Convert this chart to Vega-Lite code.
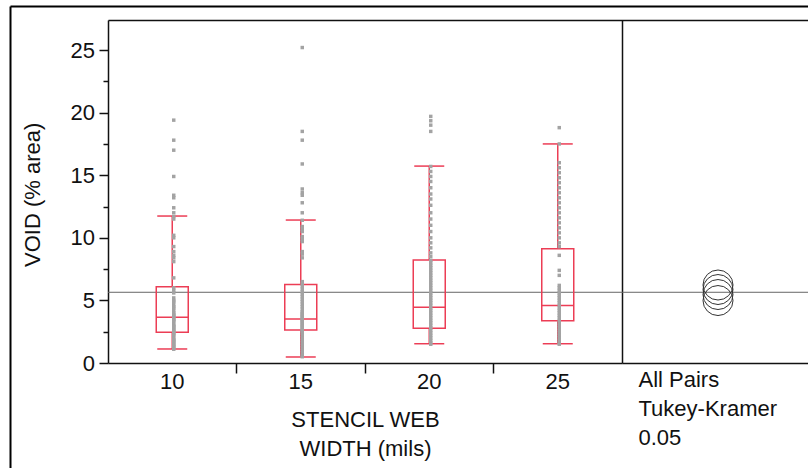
{
  "$schema": "https://vega.github.io/schema/vega-lite/v6.json",
  "width": 799,
  "height": 463,
  "autosize": {"type": "none"},
  "padding": {"left": 9, "top": 5, "right": 0, "bottom": 0},
  "background": "white",
  "config": {
    "view": {"stroke": null},
    "font": "Liberation Sans",
    "axis": {
      "labelFont": "Liberation Sans", "titleFont": "Liberation Sans",
      "labelFontSize": 22, "titleFontSize": 22,
      "labelColor": "#111", "titleColor": "#111", "titleFontWeight": "normal",
      "domainColor": "#111", "tickColor": "#111", "grid": false,
      "domainWidth": 1.5, "tickWidth": 1.5
    }
  },
  "datasets": {
    "stats": [
      {"g": "10", "lo": 1.12, "q1": 2.45, "med": 3.65, "q3": 6.09, "hi": 11.74},
      {"g": "15", "lo": 0.48, "q1": 2.64, "med": 3.51, "q3": 6.28, "hi": 11.42},
      {"g": "20", "lo": 1.54, "q1": 2.77, "med": 4.45, "q3": 8.23, "hi": 15.73},
      {"g": "25", "lo": 1.54, "q1": 3.38, "med": 4.6, "q3": 9.13, "hi": 17.5}
    ],
    "means": [
      {"g": "10", "panel": "All Pairs", "mean": 4.99},
      {"g": "15", "panel": "All Pairs", "mean": 5.47},
      {"g": "20", "panel": "All Pairs", "mean": 5.87},
      {"g": "25", "panel": "All Pairs", "mean": 6.23}
    ],
    "grand": [{"grand_mean": 5.65}],
    "points": [
      {"g":"10","v":19.4},{"g":"10","v":17.8},{"g":"10","v":17.0},{"g":"10","v":14.9},{"g":"10","v":13.4},{"g":"10","v":13.2},{"g":"10","v":12.4},{"g":"10","v":12.0},{"g":"10","v":11.7},{"g":"10","v":11.5},{"g":"10","v":10.2},{"g":"10","v":10.0},{"g":"10","v":9.3},{"g":"10","v":8.9},{"g":"10","v":8.6},{"g":"10","v":8.4},{"g":"10","v":8.1},{"g":"10","v":6.8},{"g":"10","v":6.0},{"g":"10","v":5.8},{"g":"10","v":5.6},{"g":"10","v":5.2},{"g":"10","v":5.0},{"g":"10","v":4.9},{"g":"10","v":4.7},{"g":"10","v":4.5},{"g":"10","v":4.4},{"g":"10","v":4.2},{"g":"10","v":4.0},{"g":"10","v":3.9},{"g":"10","v":3.8},{"g":"10","v":3.7},{"g":"10","v":3.6},{"g":"10","v":3.5},{"g":"10","v":3.4},{"g":"10","v":3.3},{"g":"10","v":3.1},{"g":"10","v":3.0},{"g":"10","v":2.9},{"g":"10","v":2.8},{"g":"10","v":2.7},{"g":"10","v":2.6},{"g":"10","v":2.5},{"g":"10","v":2.4},{"g":"10","v":2.3},{"g":"10","v":2.2},{"g":"10","v":2.0},{"g":"10","v":1.9},{"g":"10","v":1.8},{"g":"10","v":1.7},{"g":"10","v":1.6},{"g":"10","v":1.5},{"g":"10","v":1.4},{"g":"10","v":1.3},{"g":"10","v":1.2},{"g":"10","v":1.1},
      {"g":"15","v":25.2},{"g":"15","v":18.5},{"g":"15","v":17.8},{"g":"15","v":15.9},{"g":"15","v":13.9},{"g":"15","v":13.6},{"g":"15","v":13.4},{"g":"15","v":12.8},{"g":"15","v":12.0},{"g":"15","v":11.4},{"g":"15","v":10.9},{"g":"15","v":10.7},{"g":"15","v":10.5},{"g":"15","v":10.1},{"g":"15","v":9.9},{"g":"15","v":9.7},{"g":"15","v":8.9},{"g":"15","v":8.7},{"g":"15","v":8.4},{"g":"15","v":6.5},{"g":"15","v":6.3},{"g":"15","v":6.1},{"g":"15","v":5.9},{"g":"15","v":5.7},{"g":"15","v":5.5},{"g":"15","v":5.3},{"g":"15","v":5.1},{"g":"15","v":4.9},{"g":"15","v":4.7},{"g":"15","v":4.5},{"g":"15","v":4.3},{"g":"15","v":4.1},{"g":"15","v":4.0},{"g":"15","v":3.9},{"g":"15","v":3.8},{"g":"15","v":3.7},{"g":"15","v":3.6},{"g":"15","v":3.5},{"g":"15","v":3.4},{"g":"15","v":3.3},{"g":"15","v":3.2},{"g":"15","v":3.1},{"g":"15","v":3.0},{"g":"15","v":2.9},{"g":"15","v":2.8},{"g":"15","v":2.7},{"g":"15","v":2.6},{"g":"15","v":2.5},{"g":"15","v":2.4},{"g":"15","v":2.2},{"g":"15","v":2.0},{"g":"15","v":1.8},{"g":"15","v":1.6},{"g":"15","v":1.4},{"g":"15","v":1.2},{"g":"15","v":1.0},{"g":"15","v":0.8},{"g":"15","v":0.6},{"g":"15","v":0.5},
      {"g":"20","v":19.7},{"g":"20","v":19.35},{"g":"20","v":19.0},{"g":"20","v":18.5},{"g":"20","v":15.7},{"g":"20","v":15.3},{"g":"20","v":14.9},{"g":"20","v":14.5},{"g":"20","v":14.0},{"g":"20","v":13.5},{"g":"20","v":13.1},{"g":"20","v":12.6},{"g":"20","v":12.0},{"g":"20","v":11.5},{"g":"20","v":11.0},{"g":"20","v":10.5},{"g":"20","v":10.0},{"g":"20","v":9.6},{"g":"20","v":9.2},{"g":"20","v":8.8},{"g":"20","v":8.5},{"g":"20","v":8.2},{"g":"20","v":8.0},{"g":"20","v":7.8},{"g":"20","v":7.6},{"g":"20","v":7.4},{"g":"20","v":7.2},{"g":"20","v":7.0},{"g":"20","v":6.8},{"g":"20","v":6.6},{"g":"20","v":6.4},{"g":"20","v":6.2},{"g":"20","v":6.0},{"g":"20","v":5.8},{"g":"20","v":5.6},{"g":"20","v":5.4},{"g":"20","v":5.2},{"g":"20","v":5.0},{"g":"20","v":4.8},{"g":"20","v":4.6},{"g":"20","v":4.4},{"g":"20","v":4.2},{"g":"20","v":4.0},{"g":"20","v":3.8},{"g":"20","v":3.6},{"g":"20","v":3.4},{"g":"20","v":3.2},{"g":"20","v":3.0},{"g":"20","v":2.8},{"g":"20","v":2.6},{"g":"20","v":2.4},{"g":"20","v":2.2},{"g":"20","v":2.0},{"g":"20","v":1.8},{"g":"20","v":1.6},{"g":"20","v":1.5},
      {"g":"25","v":18.8},{"g":"25","v":17.5},{"g":"25","v":16.0},{"g":"25","v":15.6},{"g":"25","v":15.2},{"g":"25","v":14.8},{"g":"25","v":14.4},{"g":"25","v":14.0},{"g":"25","v":13.6},{"g":"25","v":13.2},{"g":"25","v":12.8},{"g":"25","v":12.4},{"g":"25","v":12.0},{"g":"25","v":11.6},{"g":"25","v":11.2},{"g":"25","v":10.8},{"g":"25","v":10.4},{"g":"25","v":10.0},{"g":"25","v":9.6},{"g":"25","v":9.3},{"g":"25","v":8.6},{"g":"25","v":7.4},{"g":"25","v":7.0},{"g":"25","v":6.2},{"g":"25","v":6.0},{"g":"25","v":5.8},{"g":"25","v":5.6},{"g":"25","v":5.4},{"g":"25","v":5.2},{"g":"25","v":5.0},{"g":"25","v":4.8},{"g":"25","v":4.6},{"g":"25","v":4.4},{"g":"25","v":4.2},{"g":"25","v":4.0},{"g":"25","v":3.8},{"g":"25","v":3.6},{"g":"25","v":3.4},{"g":"25","v":3.2},{"g":"25","v":3.0},{"g":"25","v":2.8},{"g":"25","v":2.6},{"g":"25","v":2.4},{"g":"25","v":2.2},{"g":"25","v":2.0},{"g":"25","v":1.8},{"g":"25","v":1.6},{"g":"25","v":1.5}
    ]
  },
  "layer": [
    {
      "data": {"name": "grand"},
      "mark": {"type": "rule", "strokeOpacity": 0},
      "encoding": {
        "x": {"datum": 0, "type": "quantitative", "scale": {"domain": [0, 1], "range": [1, 799], "nice": false, "zero": false},
          "axis": {"orient": "top", "offset": -1, "domain": true, "domainColor": "#000", "domainWidth": 2, "ticks": false, "labels": false, "title": null}},
        "x2": {"datum": 1},
        "y": {"field": "grand_mean", "type": "quantitative", "scale": {"domain": [0, 27.4], "range": [463, 1], "nice": false, "zero": false},
          "axis": {"orient": "left", "offset": -1, "domain": true, "domainColor": "#000", "domainWidth": 2, "ticks": false, "labels": false, "title": null}}
      }
    },
    {
      "data": {"name": "grand"},
      "mark": {"type": "rule", "color": "#666", "strokeWidth": 1},
      "encoding": {
        "x": {"datum": 0, "type": "quantitative", "scale": {"domain": [0, 1], "range": [99, 805], "nice": false, "zero": false},
          "axis": {"orient": "top", "offset": -15, "domain": true, "ticks": false, "labels": false, "title": null}},
        "x2": {"datum": 1},
        "y": {"field": "grand_mean", "type": "quantitative", "scale": {"domain": [0, 27.4], "range": [358, 15], "nice": false, "zero": false},
          "axis": {"orient": "left", "offset": -99, "values": [0, 5, 10, 15, 20, 25], "tickSize": 9, "labelPadding": 4.5, "domain": true,
            "title": "VOID (% area)", "titleAngle": 270, "titleX": -69, "titleY": 189.3, "titleAlign": "center", "titleBaseline": "alphabetic"}}
      }
    },
    {
      "data": {"name": "stats"},
      "mark": {"type": "bar", "size": 32, "fill": "transparent", "stroke": "#ec3d55", "strokeWidth": 1.5},
      "encoding": {
        "x": {"field": "g", "type": "nominal",
          "scale": {"type": "band", "domain": ["10", "15", "20", "25"], "range": [99, 613], "paddingInner": 0, "paddingOuter": 0},
          "axis": {"orient": "bottom", "offset": -105, "ticks": false, "tickSize": 0, "labelPadding": 25.5, "labelBaseline": "alphabetic", "labelAngle": 0, "domain": true,
            "title": ["STENCIL WEB", "WIDTH (mils)"], "titleY": 63.5, "titleBaseline": "alphabetic", "titleLineHeight": 28.5, "titleAlign": "center"}},
        "y": {"field": "q1", "type": "quantitative",
          "scale": {"domain": [0, 27.4], "range": [358, 15], "nice": false, "zero": false},
          "axis": {"orient": "left", "offset": -99, "values": [2.5, 7.5, 12.5, 17.5, 22.5], "tickSize": 5, "labels": false, "domain": false, "title": null}},
        "y2": {"field": "q3"}
      }
    },
    {
      "data": {"name": "stats"},
      "mark": {"type": "rule", "color": "#ec3d55", "strokeWidth": 1.5},
      "encoding": {
        "x": {"field": "g", "type": "nominal",
          "scale": {"type": "band", "domain": ["10", "15", "20", "25"], "range": [99, 613], "paddingInner": 0, "paddingOuter": 0},
          "axis": {"orient": "bottom", "offset": -105, "values": ["15", "20", "25"], "bandPosition": 0, "labels": false, "domain": false, "ticks": true, "tickSize": 10, "title": null}},
        "y": {"field": "lo", "type": "quantitative", "scale": {"domain": [0, 27.4], "range": [358, 15], "nice": false, "zero": false}, "axis": null},
        "y2": {"field": "q1"}
      }
    },
    {
      "data": {"name": "stats"},
      "mark": {"type": "rule", "color": "#ec3d55", "strokeWidth": 1.5},
      "encoding": {
        "x": {"field": "g", "type": "nominal", "scale": {"type": "band", "domain": ["10", "15", "20", "25"], "range": [99, 613], "paddingInner": 0, "paddingOuter": 0}, "axis": null},
        "y": {"field": "q3", "type": "quantitative", "scale": {"domain": [0, 27.4], "range": [358, 15], "nice": false, "zero": false}, "axis": null},
        "y2": {"field": "hi"}
      }
    },
    {
      "data": {"name": "stats"},
      "mark": {"type": "tick", "color": "#ec3d55", "size": 30, "thickness": 1.5, "opacity": 1},
      "encoding": {
        "x": {"field": "g", "type": "nominal", "scale": {"type": "band", "domain": ["10", "15", "20", "25"], "range": [99, 613], "paddingInner": 0, "paddingOuter": 0}, "axis": null},
        "y": {"field": "lo", "type": "quantitative", "scale": {"domain": [0, 27.4], "range": [358, 15], "nice": false, "zero": false}, "axis": null}
      }
    },
    {
      "data": {"name": "stats"},
      "mark": {"type": "tick", "color": "#ec3d55", "size": 30, "thickness": 1.5, "opacity": 1},
      "encoding": {
        "x": {"field": "g", "type": "nominal", "scale": {"type": "band", "domain": ["10", "15", "20", "25"], "range": [99, 613], "paddingInner": 0, "paddingOuter": 0}, "axis": null},
        "y": {"field": "hi", "type": "quantitative", "scale": {"domain": [0, 27.4], "range": [358, 15], "nice": false, "zero": false}, "axis": null}
      }
    },
    {
      "data": {"name": "stats"},
      "mark": {"type": "tick", "color": "#ec3d55", "size": 32, "thickness": 1.5, "opacity": 1},
      "encoding": {
        "x": {"field": "g", "type": "nominal", "scale": {"type": "band", "domain": ["10", "15", "20", "25"], "range": [99, 613], "paddingInner": 0, "paddingOuter": 0}, "axis": null},
        "y": {"field": "med", "type": "quantitative", "scale": {"domain": [0, 27.4], "range": [358, 15], "nice": false, "zero": false}, "axis": null}
      }
    },
    {
      "data": {"name": "points"},
      "mark": {"type": "point", "shape": "square", "filled": true, "size": 12, "color": "#a3a3a3", "opacity": 1, "xOffset": 1.5},
      "encoding": {
        "x": {"field": "g", "type": "nominal", "scale": {"type": "band", "domain": ["10", "15", "20", "25"], "range": [99, 613], "paddingInner": 0, "paddingOuter": 0}, "axis": null},
        "y": {"field": "v", "type": "quantitative", "scale": {"domain": [0, 27.4], "range": [358, 15], "nice": false, "zero": false}, "axis": null}
      }
    },
    {
      "data": {"name": "means"},
      "mark": {"type": "point", "shape": "circle", "filled": false, "size": 900, "stroke": "#333", "strokeWidth": 1, "opacity": 1},
      "encoding": {
        "x": {"field": "panel", "type": "nominal", "scale": {"type": "point", "domain": ["All Pairs"], "range": [613, 805], "padding": 0.5},
          "axis": {"orient": "bottom", "offset": -105, "domain": true, "ticks": false, "labels": false,
            "title": ["All Pairs", "Tukey-Kramer", "0.05"], "titleX": 629, "titleY": 23, "titleAlign": "left", "titleAngle": 0, "titleBaseline": "alphabetic", "titleLineHeight": 29.25}},
        "y": {"field": "mean", "type": "quantitative", "scale": {"domain": [0, 27.4], "range": [358, 15], "nice": false, "zero": false},
          "axis": {"orient": "left", "offset": -613, "domain": true, "ticks": false, "labels": false, "title": null}}
      }
    }
  ],
  "resolve": {"scale": {"x": "independent", "y": "independent"}, "axis": {"x": "independent", "y": "independent"}}
}
